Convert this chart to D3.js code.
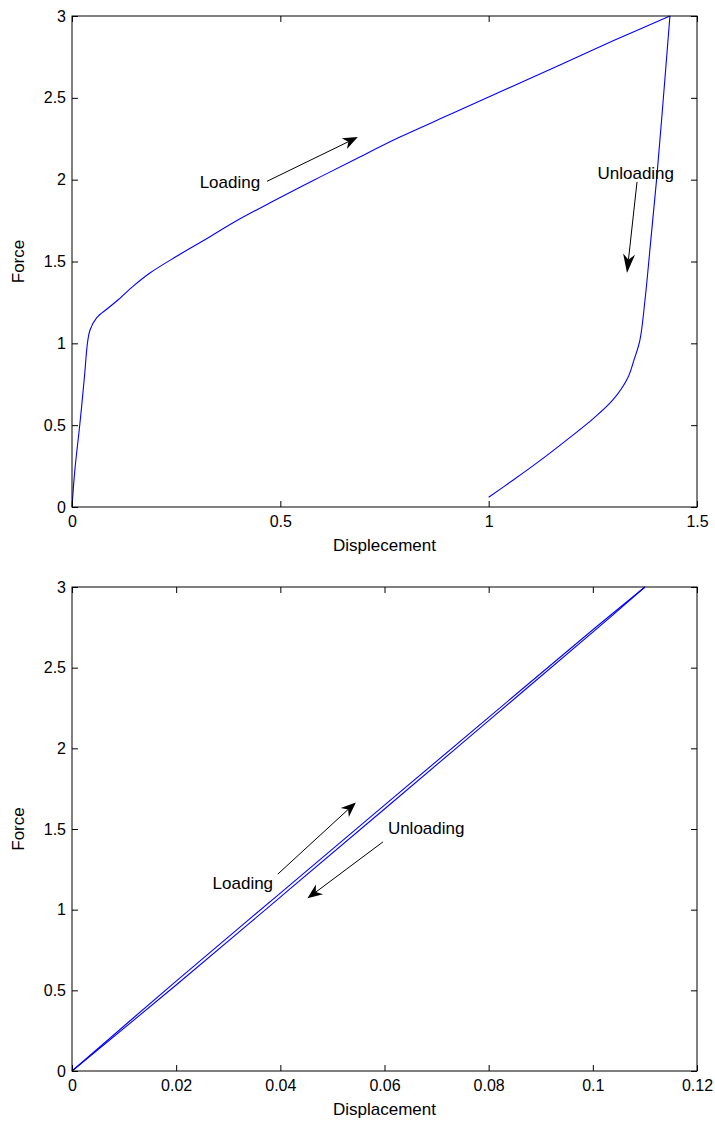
<!DOCTYPE html>
<html>
<head>
<meta charset="utf-8">
<script src="https://cdn.jsdelivr.net/npm/d3@7"></script>
<style>
  html, body { margin: 0; padding: 0; background: #ffffff; }
  svg { display: block; }
  text { font-family: "Liberation Sans", Arial, Helvetica, sans-serif; fill: #000; }
</style>
</head>
<body>
<svg id="fig" width="715" height="1124"></svg>
<script>
// ---- Elasto-plastic response (upper panel) ----
const plasticLoadDisp  = [0, 0.007, 0.019, 0.030, 0.037, 0.043, 0.059, 0.084, 0.108, 0.147, 0.187, 0.25, 0.32, 0.396, 0.48, 0.579, 0.68, 0.787, 0.90, 1.00, 1.171, 1.30, 1.435];
const plasticLoadForce = [0, 0.23, 0.51, 0.80, 1.00, 1.08, 1.155, 1.21, 1.26, 1.35, 1.43, 1.53, 1.635, 1.75, 1.865, 1.995, 2.125, 2.26, 2.39, 2.505, 2.70, 2.85, 3.00];
const plasticUnloadDisp  = [1.435, 1.419, 1.403, 1.388, 1.375, 1.363, 1.349, 1.334, 1.298, 1.251, 1.187, 1.115, 1.059, 1.000];
const plasticUnloadForce = [3.00, 2.49, 2.00, 1.60, 1.26, 1.02, 0.90, 0.79, 0.654, 0.54, 0.409, 0.268, 0.165, 0.06];

// ---- Elastic response (lower panel) ----
const elasticLoadDisp  = [0, 0.02, 0.04, 0.06, 0.08, 0.10, 0.11];
const elasticLoadForce = [0, 0.557, 1.103, 1.648, 2.192, 2.735, 3.00];
const elasticUnloadDisp  = [0.11, 0.10, 0.08, 0.06, 0.04, 0.02, 0];
const elasticUnloadForce = [3.00, 2.720, 2.172, 1.624, 1.078, 0.533, 0];

// Tick values / labels
const topXTicks = [0, 0.5, 1, 1.5];
const topXLabels = ["0", "0.5", "1", "1.5"];
const bottomXTicks = [0, 0.02, 0.04, 0.06, 0.08, 0.1, 0.12];
const bottomXLabels = ["0", "0.02", "0.04", "0.06", "0.08", "0.1", "0.12"];
const yTicks = [0, 0.5, 1, 1.5, 2, 2.5, 3];
const yLabels = ["0", "0.5", "1", "1.5", "2", "2.5", "3"];

// Annotation anchors, in data units
const topLoadingNote   = { label: "Loading",   text: [0.379, 1.98], tail: [0.468, 1.99], tip: [0.686, 2.26] };
const topUnloadingNote = { label: "Unloading", text: [1.353, 2.04], tail: [1.356, 1.986], tip: [1.332, 1.43] };
const botLoadingNote   = { label: "Loading",   text: [0.0328, 1.165], tail: [0.0395, 1.22], tip: [0.0545, 1.665] };
const botUnloadingNote = { label: "Unloading", text: [0.0680, 1.506], tail: [0.0597, 1.42], tip: [0.0452, 1.07] };

const svg = d3.select("#fig");
const lineColor = "#0000ff";

function drawPanel(cfg) {
  const x = d3.scaleLinear().domain(cfg.xDomain).range([cfg.left, cfg.right]);
  const y = d3.scaleLinear().domain([0, 3]).range([cfg.bottom, cfg.top]);
  const g = svg.append("g");

  // curves
  const line = d3.line().x(d => x(d[0])).y(d => y(d[1])).curve(d3.curveCatmullRom.alpha(0.5));
  cfg.series.forEach(s => {
    const pts = s.d.map((v, i) => [v, s.f[i]]);
    g.append("path").datum(pts)
      .attr("d", line)
      .attr("fill", "none")
      .attr("stroke", lineColor)
      .attr("stroke-width", 1.1)
      .attr("stroke-linejoin", "round");
  });

  // box
  g.append("rect")
    .attr("x", cfg.left).attr("y", cfg.top)
    .attr("width", cfg.right - cfg.left).attr("height", cfg.bottom - cfg.top)
    .attr("fill", "none").attr("stroke", "#000").attr("stroke-width", 1);

  const tickLen = 6;
  // bottom axis with inward ticks, mirrored at top; left axis mirrored at right
  const xb = d3.axisBottom(x).tickValues(cfg.xTicks).tickSize(-tickLen)
    .tickFormat((d, i) => cfg.xLabels[i]).tickPadding(10);
  const gx = g.append("g").attr("transform", `translate(0,${cfg.bottom})`).call(xb);
  const xt = d3.axisTop(x).tickValues(cfg.xTicks).tickSize(-tickLen).tickFormat("");
  const gxt = g.append("g").attr("transform", `translate(0,${cfg.top})`).call(xt);
  const yl = d3.axisLeft(y).tickValues(yTicks).tickSize(-tickLen)
    .tickFormat((d, i) => yLabels[i]).tickPadding(6);
  const gy = g.append("g").attr("transform", `translate(${cfg.left},0)`).call(yl);
  const yr = d3.axisRight(y).tickValues(yTicks).tickSize(-tickLen).tickFormat("");
  const gyr = g.append("g").attr("transform", `translate(${cfg.right},0)`).call(yr);
  [gx, gxt, gy, gyr].forEach(a => {
    a.select(".domain").remove();
    a.selectAll(".tick line").attr("stroke", "#000");
    a.selectAll(".tick text").attr("font-size", 16).attr("fill", "#000")
      .style("font-family", '"Liberation Sans", Arial, sans-serif');
  });
  gx.selectAll(".tick text").attr("dy", "0.71em").attr("y", 9);

  // axis titles
  g.append("text")
    .attr("x", (cfg.left + cfg.right) / 2).attr("y", cfg.bottom + 38)
    .attr("text-anchor", "middle").attr("dominant-baseline", "central")
    .attr("font-size", 17).text(cfg.xTitle);
  g.append("text")
    .attr("transform", `translate(18,${(cfg.top + cfg.bottom) / 2}) rotate(-90)`)
    .attr("text-anchor", "middle").attr("dominant-baseline", "central")
    .attr("font-size", 17).text("Force");

  // annotations: text with a filled-head arrow
  cfg.notes.forEach(n => {
    const tx = x(n.tail[0]), ty = y(n.tail[1]);
    const px = x(n.tip[0]), py = y(n.tip[1]);
    const ang = Math.atan2(py - ty, px - tx);
    const headLen = n.headLen || 15, headW = 6;
    const bx = px - headLen * Math.cos(ang), by = py - headLen * Math.sin(ang);
    const nx = -Math.sin(ang), ny = Math.cos(ang);
    const notchX = px - headLen * 0.7 * Math.cos(ang), notchY = py - headLen * 0.7 * Math.sin(ang);
    g.append("line")
      .attr("x1", tx).attr("y1", ty).attr("x2", notchX).attr("y2", notchY)
      .attr("stroke", "#000").attr("stroke-width", 1);
    g.append("path")
      .attr("d", `M${px},${py} L${bx + nx * headW},${by + ny * headW} L${notchX},${notchY} L${bx - nx * headW},${by - ny * headW} Z`)
      .attr("fill", "#000");
    g.append("text")
      .attr("x", x(n.text[0])).attr("y", y(n.text[1]))
      .attr("text-anchor", "middle").attr("dominant-baseline", "central")
      .attr("font-size", 17).text(n.label);
  });
}

drawPanel({
  left: 72, right: 697, top: 16, bottom: 507,
  xDomain: [0, 1.5], xTicks: topXTicks, xLabels: topXLabels,
  xTitle: "Displecement",
  series: [
    { d: plasticLoadDisp, f: plasticLoadForce },
    { d: plasticUnloadDisp, f: plasticUnloadForce }
  ],
  notes: [topLoadingNote, Object.assign({ headLen: 19 }, topUnloadingNote)]
});

drawPanel({
  left: 72, right: 697, top: 587, bottom: 1071,
  xDomain: [0, 0.12], xTicks: bottomXTicks, xLabels: bottomXLabels,
  xTitle: "Displacement",
  series: [
    { d: elasticLoadDisp, f: elasticLoadForce },
    { d: elasticUnloadDisp, f: elasticUnloadForce }
  ],
  notes: [botLoadingNote, botUnloadingNote]
});
</script>
</body>
</html>
